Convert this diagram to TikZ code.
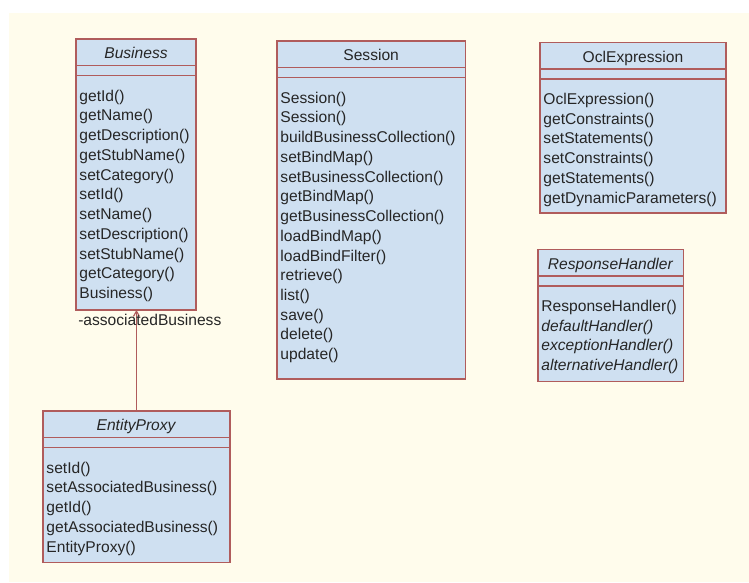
\documentclass[tikz,border=0pt]{standalone}
\usepackage{fontspec}
\setmainfont{Liberation Sans}
\usepackage{tikz}
\usetikzlibrary{arrows.meta}
\definecolor{paper}{HTML}{FFFCEC}
\definecolor{umlblue}{HTML}{CFE0F1}
\definecolor{umlred}{HTML}{B05C5C}
\definecolor{umltext}{HTML}{262626}
\tikzstyle{clsname}=[rectangle, draw=umlred, fill=umlblue, line width=0.85pt, inner sep=0pt, outer sep=0pt, minimum height=20pt, text height=9.8pt, text depth=0pt, anchor=north west]
\tikzstyle{clsattr}=[rectangle, draw=umlred, fill=umlblue, line width=0.85pt, inner sep=0pt, outer sep=0pt, minimum height=7.5pt, anchor=north west]
\tikzstyle{clsops}=[rectangle, draw=umlred, fill=umlblue, line width=0.85pt, inner xsep=2.6pt, inner ysep=0pt, outer sep=0pt, align=left, text height=19.1pt, anchor=north west]
\tikzstyle{assoc}=[draw=umlred, line width=0.85pt, -{Straight Barb[length=4pt, width=4.5pt]}]
\tikzstyle{role}=[inner sep=0pt, anchor=base west]

\begin{document}
\begin{tikzpicture}[x=0.75pt, y=-0.75pt, text=umltext, font=\fontsize{11.7pt}{14.8pt}\selectfont]
\fill[white] (0,0) rectangle (749,582);
\fill[paper] (9,13) rectangle (749,582);
\useasboundingbox (0,0) rectangle (749,582);

\node[clsname, minimum width=90pt] (bus) at (76,39) {\textit{Business}};
\node[clsattr, minimum width=90pt] (busA) at (bus.south west) {};
\node[clsops, text width=84.8pt, text depth=156.6pt] (busO) at (busA.south west)
  {getId()\\getName()\\getDescription()\\getStubName()\\setCategory()\\setId()\\setName()\\setDescription()\\setStubName()\\getCategory()\\Business()};

\node[clsname, minimum width=141.2pt] (ses) at (277,41) {Session};
\node[clsattr, minimum width=141.2pt] (sesA) at (ses.south west) {};
\node[clsops, text width=136pt, text depth=206.9pt] (sesO) at (sesA.south west)
  {Session()\\Session()\\buildBusinessCollection()\\setBindMap()\\setBusinessCollection()\\getBindMap()\\getBusinessCollection()\\loadBindMap()\\loadBindFilter()\\retrieve()\\list()\\save()\\delete()\\update()};

\node[clsname, minimum width=139.5pt] (ocl) at (540,42.3) {OclExpression};
\node[clsattr, minimum width=139.5pt] (oclA) at (ocl.south west) {};
\node[clsops, text width=134.3pt, text depth=81.4pt] (oclO) at (oclA.south west)
  {OclExpression()\\getConstraints()\\setStatements()\\setConstraints()\\getStatements()\\getDynamicParameters()};

\node[clsname, minimum width=109pt] (rsp) at (538,249.3) {\textit{ResponseHandler}};
\node[clsattr, minimum width=109pt] (rspA) at (rsp.south west) {};
\node[clsops, text width=103.8pt, text depth=52.7pt] (rspO) at (rspA.south west)
  {ResponseHandler()\\\textit{defaultHandler()}\\\textit{exceptionHandler()}\\\textit{alternativeHandler()}};

\node[clsname, minimum width=140.2pt] (ent) at (43,411) {\textit{EntityProxy}};
\node[clsattr, minimum width=140.2pt] (entA) at (ent.south west) {};
\node[clsops, text width=135pt, text depth=67.2pt] (entO) at (entA.south west)
  {setId()\\setAssociatedBusiness()\\getId()\\getAssociatedBusiness()\\EntityProxy()};

\draw[assoc] (ent.north) -- (ent.north |- busO.south);
\node[role] (busrole) at ([shift={(1.5pt,-12pt)}]busO.south west) {-associatedBusiness};
\end{tikzpicture}
\end{document}
